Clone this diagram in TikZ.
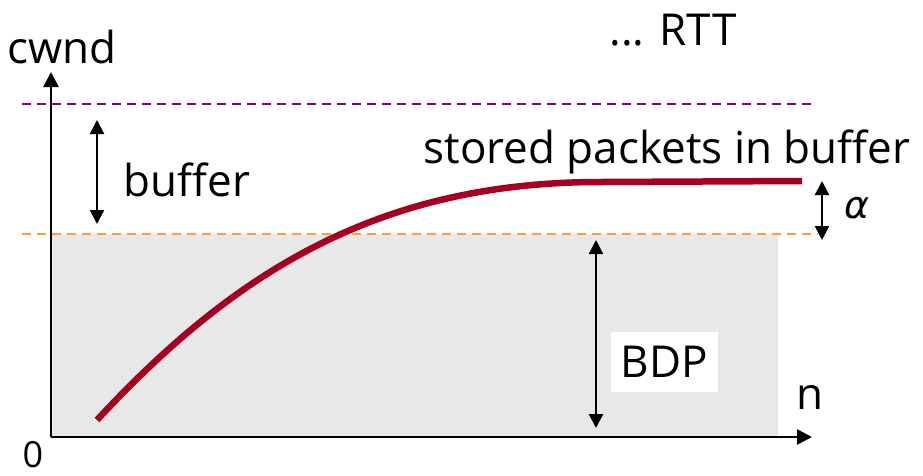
\documentclass[tikz,border=0pt]{standalone}
\usepackage{fontspec}
\setmainfont{Open Sans}
\newfontfamily\greekfont{DejaVu Sans}
\usetikzlibrary{arrows.meta}
\definecolor{curvered}{HTML}{A50021}
\definecolor{bggray}{HTML}{E8E8E8}
\definecolor{dorange}{HTML}{F7A040}
\definecolor{dpurple}{HTML}{800080}
\tikzset{
  axis/.style={line width=2.6pt,-{Triangle[length=15pt,width=15pt]}},
  dbl/.style={line width=2.2pt,{Triangle[length=14pt,width=14pt]}-{Triangle[length=14pt,width=14pt]}},
  dash line/.style={line width=1.6pt,dash pattern=on 9pt off 6pt},
  lbl/.style={font=\fontsize{44}{50}\selectfont,inner sep=0pt},
}
\begin{document}
\begin{tikzpicture}[x=1pt,y=-1pt]
\useasboundingbox (0,0) rectangle (923,475);
\fill[bggray] (51,234) rectangle (778,437);
\draw[dash line,dpurple] (22,104) -- (816,104);
\draw[dash line,dorange] (22,234) -- (818,234);
\coordinate (origin) at (51,437);
\coordinate (ytip) at (51,72);
\coordinate (xtip) at (812,437);
\draw[axis] (origin) -- (ytip);
\draw[axis] (origin) -- (xtip);
\draw[line width=6.5pt,curvered]
  (97,420) .. controls (235,271) and (380,182) .. (600,182) -- (802,181);
\coordinate (b1) at (97,120);
\coordinate (b2) at (97,224);
\draw[dbl] (b1) -- (b2);
\coordinate (a1) at (822,181);
\coordinate (a2) at (822,240);
\draw[dbl] (a1) -- (a2);
\coordinate (d1) at (596,240);
\coordinate (d2) at (596,428);
\draw[dbl] (d1) -- (d2);
\node[fill=white,minimum width=107pt,minimum height=60pt,inner sep=0pt] (bdpbox) at (664.5,362) {};
\node[lbl] (bdp) at (bdpbox) {BDP};
\node[lbl] (cwnd) at (62,47) {cwnd};
\node[lbl] (rtt) at (673,30) {... RTT};
\node[lbl] (buf) at (187,180) {buffer};
\node[lbl] (stored) at (667,152) {stored packets in buffer};
\node[lbl,font=\fontsize{38}{44}\selectfont\greekfont\itshape] (alpha) at (857,208) {α};
\node[lbl] (n) at (810,398) {n};
\node[lbl,font=\fontsize{36}{40}\selectfont] (zero) at (33,455) {0};
\end{tikzpicture}
\end{document}
